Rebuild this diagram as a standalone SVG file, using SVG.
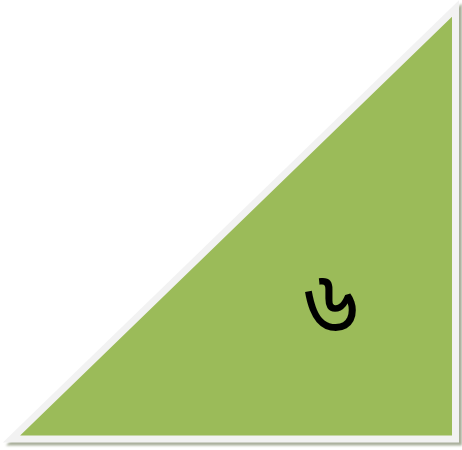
<svg xmlns="http://www.w3.org/2000/svg" width="462" height="450" viewBox="0 0 462 450">
<defs>
<filter id="sh" x="-5%" y="-5%" width="110%" height="110%"><feGaussianBlur stdDeviation="1"/></filter>
<style>
.lbl{font-family:"Noto Sans Bengali","Noto Sans","DejaVu Sans",sans-serif;font-size:92px;fill:#000}
</style>
</defs>
<g id="triangle">
<path d="M11.5,439 L455.5,8.5 L455.5,439 Z" transform="translate(3,3)" fill="#A8AF9A" stroke="#A8AF9A" stroke-width="7" stroke-miterlimit="10" filter="url(#sh)"/>
<path d="M11.5,439 L455.5,8.5 L455.5,439 Z" fill="#9BBB59" stroke="#F2F2F2" stroke-width="7" stroke-miterlimit="10"/>
<text class="lbl" x="331" y="335" text-anchor="middle">৬</text>
</g>
</svg>
